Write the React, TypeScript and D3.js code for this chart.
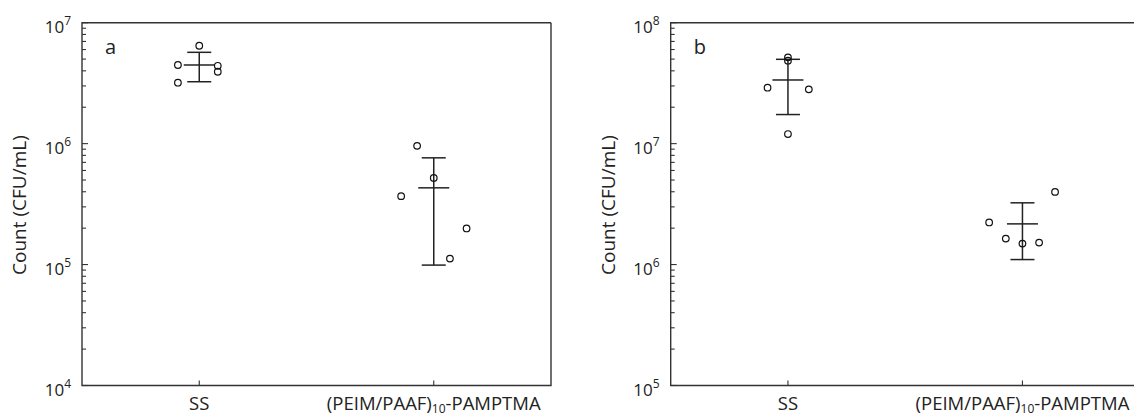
import React from "react";
import * as d3 from "d3";

// groups on the x axis (label pieces: text, subscript, text)
const categories = ["SS", "(PEIM/PAAF)10-PAMPTMA"];
const categoryParts = [["SS"], ["(PEIM/PAAF)", "10", "-PAMPTMA"]];

// panel a: counts per replicate, horizontal jitter in category units
const ssA = [6.45e6, 4.47e6, 4.4e6, 3.93e6, 3.19e6];
const ssAJitter = [0, -0.091, 0.079, 0.079, -0.091];
const peimA = [9.59e5, 5.21e5, 3.68e5, 1.99e5, 1.12e5];
const peimAJitter = [-0.071, 0, -0.139, 0.14, 0.069];
const meanA = [4.47e6, 4.31e5];
const sdA = [1.22e6, 3.32e5];

// panel b
const ssB = [5.17e7, 4.85e7, 2.9e7, 2.81e7, 1.2e7];
const ssBJitter = [0, 0, -0.087, 0.089, 0];
const peimB = [3.99e6, 2.23e6, 1.64e6, 1.49e6, 1.52e6];
const peimBJitter = [0.139, -0.142, -0.071, 0, 0.071];
const meanB = [3.36e7, 2.17e6];
const sdB = [1.62e7, 1.07e6];

const yDomainA = [1e4, 1e7];
const yDomainB = [1e5, 1e8];

const FONT = "'Open Sans', 'Noto Sans', sans-serif";
const INK = "#222";
const FRAME = "#333";

function Panel({ left, right, top, bottom, yDomain, letter, groups, means, sds }) {
  const x = d3.scaleLinear().domain([0.5, 2.5]).range([left, left + 469]);
  const y = d3.scaleLog().domain(yDomain).range([bottom, top]);
  const ticks = y.ticks();
  const isMajor = (t) => Math.abs(Math.log10(t) - Math.round(Math.log10(t))) < 1e-9;
  const meanHalf = 15.5;
  const capHalf = 12;

  return (
    <g>
      {/* frame: left, top, bottom (right side may be cut off) */}
      <path
        d={`M${right},${top}H${left}V${bottom}H${right}V${top}`}
        fill="none"
        stroke={FRAME}
        strokeWidth={1.4}
      />
      {/* y ticks, pointing inward */}
      {ticks.map((t, i) => (
        <line
          key={i}
          x1={left}
          x2={left + (isMajor(t) ? 6 : 4)}
          y1={y(t)}
          y2={y(t)}
          stroke={FRAME}
          strokeWidth={1.1}
        />
      ))}
      {ticks.filter(isMajor).map((t, i) => (
        <text
          key={i}
          x={left - 11}
          y={y(t) + 10}
          textAnchor="end"
          fontFamily={FONT}
          fontSize={17}
          fill={INK}
        >
          <tspan>10</tspan>
          <tspan dy={-8} fontSize={12}>
            {Math.round(Math.log10(t))}
          </tspan>
        </text>
      ))}
      <text
        transform={`translate(${left - 61},${(top + bottom) / 2 + 1}) rotate(-90)`}
        textAnchor="middle"
        dominantBaseline="middle"
        fontFamily={FONT}
        fontSize={19}
        fill={INK}
      >
        Count (CFU/mL)
      </text>
      <text x={left + 23} y={54} fontFamily={FONT} fontSize={20} fill={INK}>
        {letter}
      </text>
      {/* category ticks and labels */}
      {categories.map((c, i) => (
        <g key={c}>
          <line x1={x(i + 1)} x2={x(i + 1)} y1={bottom} y2={bottom - 5} stroke={FRAME} strokeWidth={1.1} />
          <text x={x(i + 1)} y={410} textAnchor="middle" fontFamily={FONT} fontSize={18.5} fill={INK}>
            {categoryParts[i].map((p, k) =>
              k === 1 ? (
                <tspan key={k} fontSize={12} dy={3}>
                  {p}
                </tspan>
              ) : (
                <tspan key={k} dy={k === 2 ? -3 : 0}>
                  {p}
                </tspan>
              )
            )}
          </text>
        </g>
      ))}
      {/* mean ± SD */}
      {means.map((m, i) => {
        const cx = x(i + 1);
        return (
          <g key={i} stroke={INK} strokeWidth={1.5}>
            <line x1={cx} x2={cx} y1={y(m + sds[i])} y2={y(m - sds[i])} />
            <line x1={cx - capHalf} x2={cx + capHalf} y1={y(m + sds[i])} y2={y(m + sds[i])} />
            <line x1={cx - capHalf} x2={cx + capHalf} y1={y(m - sds[i])} y2={y(m - sds[i])} />
            <line x1={cx - meanHalf} x2={cx + meanHalf} y1={y(m)} y2={y(m)} />
          </g>
        );
      })}
      {/* replicate points */}
      {groups.map((g, i) =>
        g.values.map((v, k) => (
          <circle
            key={`${i}-${k}`}
            cx={x(i + 1 + g.jitter[k])}
            cy={y(v)}
            r={3.3}
            fill="none"
            stroke="#111"
            strokeWidth={1.2}
          />
        ))
      )}
    </g>
  );
}

export default function App() {
  const top = 22.7;
  const bottom = 385.5;
  return (
    <svg
      width={1134}
      height={416}
      style={{ position: "absolute", left: 0, top: 0, background: "#fff" }}
    >
      <Panel
        left={82}
        right={551}
        top={top}
        bottom={bottom}
        yDomain={yDomainA}
        letter="a"
        groups={[
          { values: ssA, jitter: ssAJitter },
          { values: peimA, jitter: peimAJitter },
        ]}
        means={meanA}
        sds={sdA}
      />
      <Panel
        left={670.7}
        right={1140}
        top={top}
        bottom={bottom}
        yDomain={yDomainB}
        letter="b"
        groups={[
          { values: ssB, jitter: ssBJitter },
          { values: peimB, jitter: peimBJitter },
        ]}
        means={meanB}
        sds={sdB}
      />
    </svg>
  );
}
